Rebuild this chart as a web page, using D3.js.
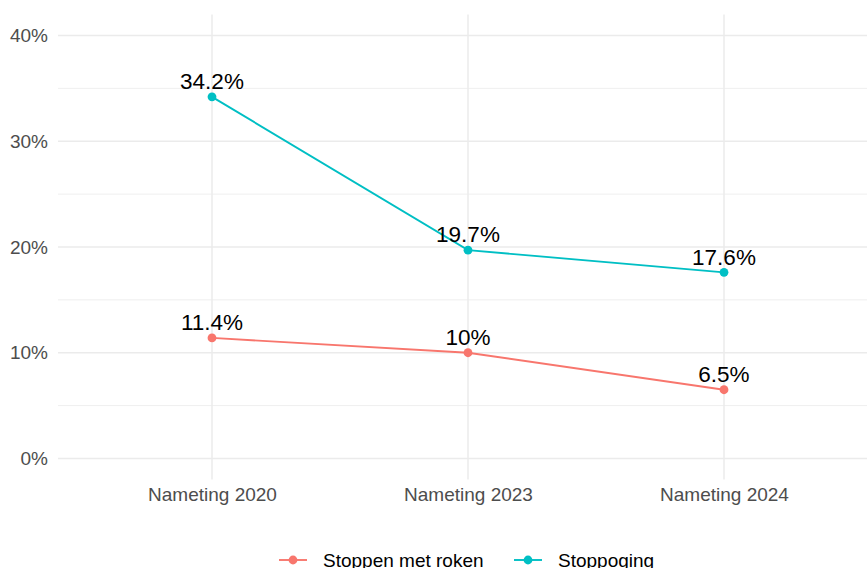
<!DOCTYPE html>
<html><head><meta charset="utf-8">
<script src="https://cdn.jsdelivr.net/npm/d3@7"></script>
<style>body{margin:0;background:#fff}svg{display:block;font-family:"Liberation Sans",Arial,sans-serif}</style>
</head><body>
<svg id="c" width="867" height="568"></svg>
<script>
const categories = ["Nameting 2020","Nameting 2023","Nameting 2024"];
const seriesNames = ["Stoppen met roken","Stoppoging"];
const stoppenMetRoken = [11.4, 10, 6.5];
const stoppoging = [34.2, 19.7, 17.6];
const yTicks = [0,10,20,30,40];
const yMinor = [5,15,25,35];
const colors = ["#F8766D","#00BFC4"];

const svg = d3.select("#c");
const panel = {left:58, right:867, top:14.4, bottom:479.6};
const x = d3.scalePoint().domain(categories).range([212,724]);
const y = d3.scaleLinear().domain([-2,42]).range([panel.bottom, panel.top]);

const g = svg.append("g");
// minor grid
g.selectAll(".ymin").data(yMinor).enter().append("line")
  .attr("x1",panel.left).attr("x2",panel.right)
  .attr("y1",d=>y(d)).attr("y2",d=>y(d))
  .attr("stroke","#ebebeb").attr("stroke-width",0.8);
// major grid
g.selectAll(".ymaj").data(yTicks).enter().append("line")
  .attr("x1",panel.left).attr("x2",panel.right)
  .attr("y1",d=>y(d)).attr("y2",d=>y(d))
  .attr("stroke","#ebebeb").attr("stroke-width",1.5);
g.selectAll(".xmaj").data(categories).enter().append("line")
  .attr("x1",d=>x(d)).attr("x2",d=>x(d))
  .attr("y1",panel.top).attr("y2",panel.bottom)
  .attr("stroke","#ebebeb").attr("stroke-width",1.5);

// axes labels
const yAxis = d3.axisLeft(y).tickValues(yTicks).tickFormat(d=>d+"%").tickSize(0).tickPadding(10);
const ya = svg.append("g").attr("transform",`translate(${panel.left},0)`).call(yAxis);
ya.select(".domain").remove();
ya.selectAll("text").attr("font-size",19).attr("fill","#4d4d4d").attr("font-family","Liberation Sans, Arial, sans-serif");

const xAxis = d3.axisBottom(x).tickSize(0).tickPadding(8);
const xa = svg.append("g").attr("transform",`translate(0,${panel.bottom})`).call(xAxis);
xa.select(".domain").remove();
xa.selectAll("text").attr("font-size",19).attr("fill","#4d4d4d").attr("font-family","Liberation Sans, Arial, sans-serif");

const series = [stoppenMetRoken, stoppoging];
const line = d3.line().x((d,i)=>x(categories[i])).y(d=>y(d));
series.forEach((vals,si)=>{
  svg.append("path").datum(vals).attr("d",line)
    .attr("fill","none").attr("stroke",colors[si]).attr("stroke-width",1.9);
  svg.selectAll(".pt"+si).data(vals).enter().append("circle")
    .attr("cx",(d,i)=>x(categories[i])).attr("cy",d=>y(d)).attr("r",4.4)
    .attr("fill",colors[si]);
  svg.selectAll(".lb"+si).data(vals).enter().append("text")
    .attr("x",(d,i)=>x(categories[i])).attr("y",d=>y(d)-7.7)
    .attr("text-anchor","middle").attr("font-size",22.5).attr("fill","#000")
    .text(d=>d+"%");
});

// legend
const legendX = [279, 514];
const ly = 560;
seriesNames.forEach((name,i)=>{
  const lg = svg.append("g").attr("transform",`translate(${legendX[i]},${ly})`);
  lg.append("line").attr("x1",0).attr("x2",28).attr("y1",0).attr("y2",0)
    .attr("stroke",colors[i]).attr("stroke-width",1.9);
  lg.append("circle").attr("cx",14).attr("cy",0).attr("r",4.4).attr("fill",colors[i]);
  lg.append("text").attr("x",44).attr("y",6.8).attr("font-size",19).attr("fill","#000").text(name);
});
</script>
</body></html>
